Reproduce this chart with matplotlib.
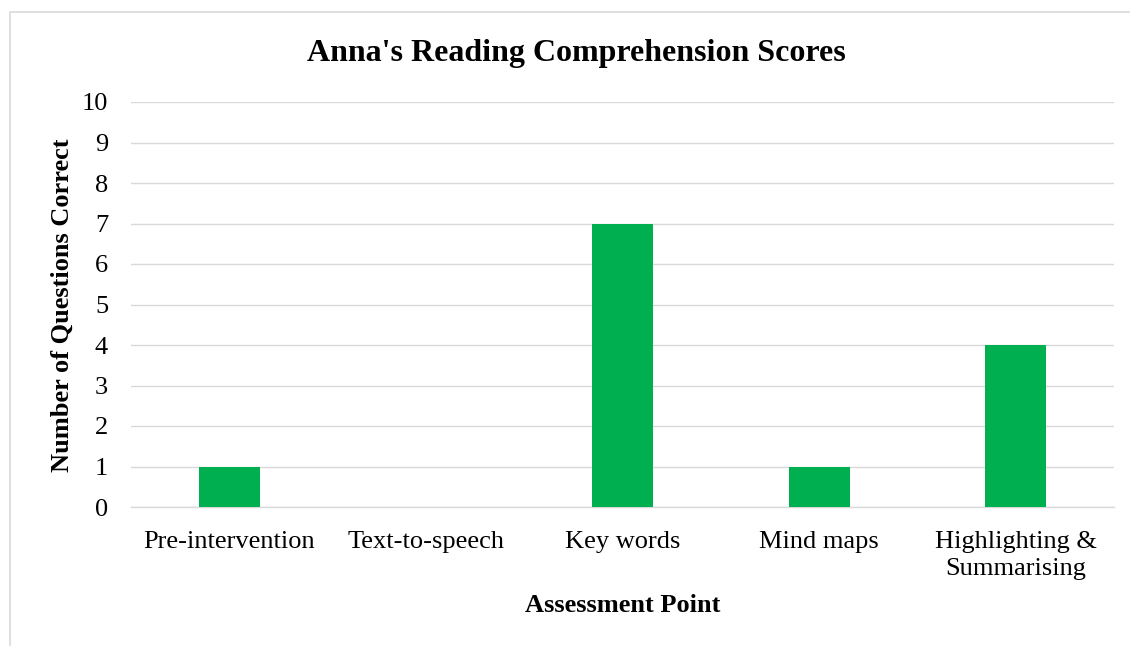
import matplotlib.pyplot as plt
from matplotlib.patches import Rectangle

categories = ["Pre-intervention", "Text-to-speech", "Key words", "Mind maps", "Highlighting &\nSummarising"]
scores = [1, 0, 7, 1, 4]
yticks = list(range(0, 11))

plt.rcParams['font.family'] = ['Liberation Serif', 'DejaVu Serif']

fig = plt.figure(figsize=(11.3, 6.46), dpi=100)
ax = fig.add_axes([131 / 1130, 1 - 507 / 646, (1114 - 131) / 1130, (507 - 102) / 646])

x = list(range(len(categories)))
ax.bar(x, scores, width=0.31, color="#00B050", zorder=3)

ax.set_xlim(-0.5, len(categories) - 0.5)
ax.set_ylim(0, 10)
ax.set_yticks(yticks)
ax.set_xticks(x)
ax.set_xticklabels(categories, fontsize=19, linespacing=1.3)
ax.tick_params(axis='y', labelsize=19, length=0, pad=16.5)
ax.tick_params(axis='x', length=0, pad=17)
ax.grid(axis='y', color="#d9d9d9", linewidth=1, zorder=0)
for s in ["top", "right", "left"]:
    ax.spines[s].set_visible(False)
ax.spines["bottom"].set_color("#d9d9d9")
ax.spines["bottom"].set_linewidth(1)

fig.text(576 / 1130, 1 - 53 / 646, "Anna's Reading Comprehension Scores", ha="center", va="center",
         fontsize=23, fontweight="bold")
fig.text(623 / 1130, 1 - 606 / 646, "Assessment Point", ha="center", va="center",
         fontsize=19, fontweight="bold")
fig.text(62 / 1130, 1 - 305 / 646, "Number of Questions Correct", ha="center", va="center",
         fontsize=19, fontweight="bold", rotation=90)

# chart border
fig.patches.append(Rectangle((10 / 1130, -0.05), 1.2, 1 - 12 / 646 + 0.05, transform=fig.transFigure,
                             fill=False, edgecolor="#d9d9d9", linewidth=1.2))

fig.savefig("out.png", dpi=100)
